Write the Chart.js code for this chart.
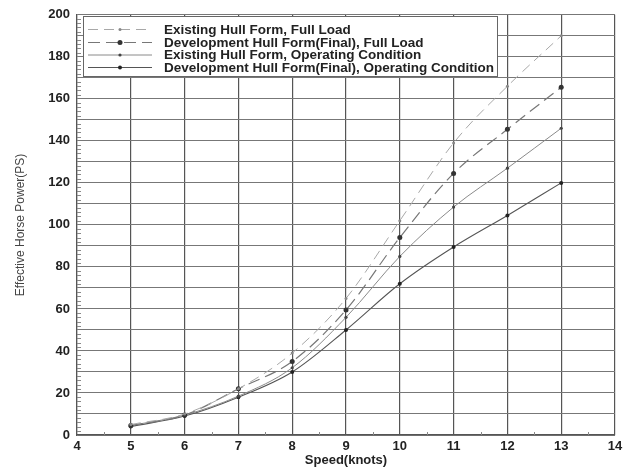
<!DOCTYPE html>
<html>
<head>
<meta charset="utf-8">
<script src="https://cdn.jsdelivr.net/npm/chart.js@4"></script>
<style>
    html, body { margin: 0; padding: 0; background: #fff; }
    #wrap { width: 629px; height: 468px; }
</style>
</head>
<body>
<div id="wrap"><canvas id="ehpChart" width="629" height="468"></canvas></div>
<script>
const speeds = [5, 6, 7, 8, 9, 10, 11, 12, 13];
const existingFull = [5, 10, 22, 39, 65, 102, 139, 166, 190];
const developmentFull = [4.5, 9.5, 22, 35, 59.5, 94, 124.5, 145.5, 165.5];
const existingOperating = [4.5, 9.5, 18.5, 32, 56, 85, 108.5, 127, 146];
const developmentOperating = [4, 9, 18, 30, 50, 72, 89.5, 104.5, 120];
const seriesLabels = [
    'Existing Hull Form, Full Load',
    'Development Hull Form(Final), Full Load',
    'Existing Hull Form, Operating Condition',
    'Development Hull Form(Final), Operating Condition'
];

const toPoints = vals => speeds.map((s, i) => ({ x: s, y: vals[i] }));

// minor ticks + legend box drawn inside the plot
const plotExtras = {
    id: 'plotExtras',
    beforeDatasetsDraw(chart) {
        const { ctx, chartArea: a, scales: { x, y } } = chart;
        ctx.save();
        ctx.strokeStyle = '#888';
        ctx.lineWidth = 1;
        for (let v = 0; v <= 200; v += 2) {
            if (v % 10 === 0) continue;
            const py = Math.round(y.getPixelForValue(v)) + 0.5;
            ctx.beginPath();
            ctx.moveTo(a.left, py);
            ctx.lineTo(a.left + 4, py);
            ctx.stroke();
        }
        for (let v = 4.5; v < 14; v += 1) {
            const px = Math.round(x.getPixelForValue(v)) + 0.5;
            ctx.beginPath();
            ctx.moveTo(px, a.bottom);
            ctx.lineTo(px, a.bottom - 3);
            ctx.stroke();
        }
        ctx.restore();
    },
    afterDraw(chart) {
        const { ctx } = chart;
        const bx = 83, by = 16, bw = 414, bh = 60;
        ctx.save();
        ctx.fillStyle = '#fff';
        ctx.fillRect(bx, by, bw, bh);
        ctx.strokeStyle = '#666';
        ctx.lineWidth = 1;
        ctx.strokeRect(bx + 0.5, by + 0.5, bw, bh);
        const rows = [29.5, 42.5, 55, 67.5];
        chart.data.datasets.forEach((ds, i) => {
            const ly = rows[i];
            ctx.strokeStyle = ds.borderColor;
            ctx.lineWidth = ds.borderWidth;
            ctx.setLineDash(ds.borderDash || []);
            ctx.beginPath();
            ctx.moveTo(88, ly);
            ctx.lineTo(152, ly);
            ctx.stroke();
            ctx.setLineDash([]);
            ctx.fillStyle = ds.pointBackgroundColor;
            ctx.beginPath();
            ctx.arc(120, ly, ds.pointRadius, 0, Math.PI * 2);
            ctx.fill();
            ctx.fillStyle = '#222';
            ctx.font = 'bold 13.5px "Liberation Sans", Arial, sans-serif';
            ctx.textBaseline = 'middle';
            ctx.fillText(ds.label, 164, ly + 0.5);
        });
        ctx.restore();
    }
};

const tickFont = { family: '"Liberation Sans", Arial, sans-serif', size: 13, weight: 'bold' };

new Chart(document.getElementById('ehpChart'), {
    type: 'line',
    data: {
        datasets: [{
            label: seriesLabels[0],
            data: toPoints(existingFull),
            borderColor: '#a8a8a8',
            borderWidth: 1,
            borderDash: [10, 6],
            pointBackgroundColor: '#888',
            pointBorderWidth: 0,
            pointRadius: 1.5
        }, {
            label: seriesLabels[1],
            data: toPoints(developmentFull),
            borderColor: '#777',
            borderWidth: 1.2,
            borderDash: [12, 6],
            pointBackgroundColor: '#333',
            pointBorderWidth: 0,
            pointRadius: 2.5
        }, {
            label: seriesLabels[2],
            data: toPoints(existingOperating),
            borderColor: '#8a8a8a',
            borderWidth: 1,
            pointBackgroundColor: '#444',
            pointBorderWidth: 0,
            pointRadius: 1.6
        }, {
            label: seriesLabels[3],
            data: toPoints(developmentOperating),
            borderColor: '#555',
            borderWidth: 1.1,
            pointBackgroundColor: '#222',
            pointBorderWidth: 0,
            pointRadius: 2
        }]
    },
    options: {
        responsive: false,
        animation: false,
        layout: { padding: { top: 14, right: 14, left: 0, bottom: 0 } },
        elements: { line: { tension: 0.35, cubicInterpolationMode: 'monotone', fill: false } },
        plugins: { legend: { display: false }, tooltip: { enabled: false } },
        scales: {
            x: {
                type: 'linear',
                min: 4,
                max: 14,
                afterFit: s => { s.height = 33; },
                border: { color: '#555', width: 1.2 },
                grid: { color: '#555', lineWidth: 1.2, drawTicks: false },
                ticks: { stepSize: 1, color: '#222', font: tickFont, padding: 4 },
                title: {
                    display: true,
                    text: 'Speed(knots)',
                    color: '#222',
                    font: { family: '"Liberation Sans", Arial, sans-serif', size: 13, weight: 'bold' },
                    padding: { top: 0, bottom: 0 }
                }
            },
            y: {
                min: 0,
                max: 200,
                afterFit: s => { s.width = 77; },
                border: { color: '#555', width: 1.2 },
                grid: { color: '#777', lineWidth: 1, drawTicks: false },
                ticks: {
                    stepSize: 10,
                    color: '#222',
                    font: tickFont,
                    padding: 7,
                    callback: v => (v % 20 === 0 ? v : '')
                },
                title: {
                    display: true,
                    text: 'Effective Horse Power(PS)',
                    color: '#444',
                    font: { family: '"Liberation Sans", Arial, sans-serif', size: 12 },
                    padding: { top: 13, bottom: 0 }
                }
            }
        }
    },
    plugins: [plotExtras]
});
</script>
</body>
</html>
